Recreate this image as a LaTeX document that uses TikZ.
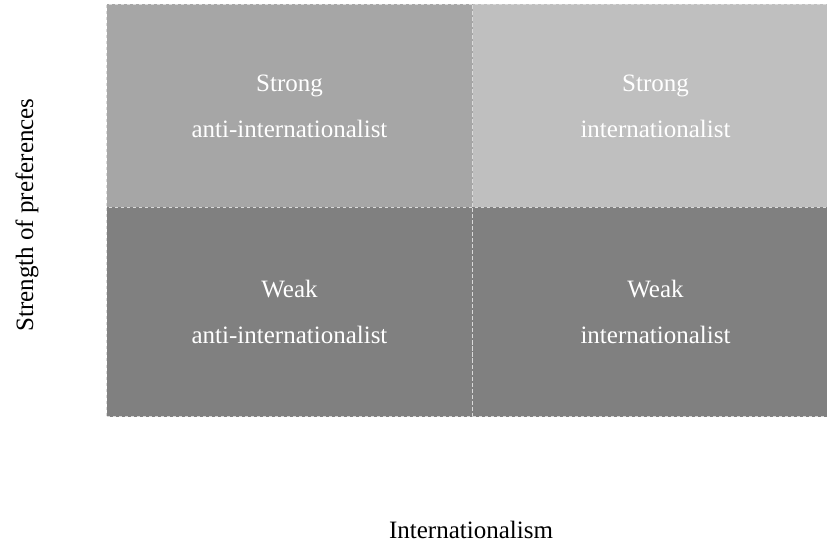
\documentclass[tikz,border=0pt]{standalone}
\usepackage{fontspec}
\setmainfont{Liberation Serif}
\begin{document}
\begin{tikzpicture}[x=1pt,y=1pt,
  cell/.style={draw=white!85!black, dash pattern=on 3pt off 3pt, line width=1pt,
    minimum width=366pt, minimum height=203pt, inner sep=0pt, anchor=north west,
    text=white, align=center, font=\fontsize{25}{46}\selectfont},
  axislabel/.style={font=\fontsize{25}{30}\selectfont, text=black}]
\useasboundingbox (0,0) rectangle (827,544);
\clip (0,0) rectangle (827,544);
\node[cell, fill=black!35] (tl) at (106,540) {Strong\\anti-internationalist};
\node[cell, fill=black!25] (tr) at (472,540) {Strong\\internationalist};
\node[cell, fill=black!50, minimum height=209pt] (bl) at (106,337) {Weak\\anti-internationalist};
\node[cell, fill=black!50, minimum height=209pt] (br) at (472,337) {Weak\\internationalist};
\node[axislabel] (xl) at (471,14) {Internationalism};
\node[axislabel, rotate=90] (yl) at (27,329) {Strength of preferences};
\end{tikzpicture}
\end{document}
